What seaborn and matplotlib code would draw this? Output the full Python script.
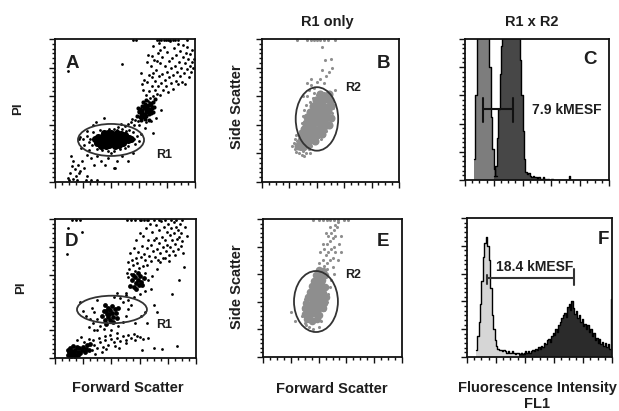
import matplotlib
matplotlib.use("Agg")
import matplotlib.pyplot as plt
import seaborn as sns
import numpy as np
import pandas as pd
from matplotlib.patches import Ellipse

sns.set_theme(style="white")
plt.rcParams['font.family'] = ['Liberation Sans', 'DejaVu Sans']

# ---------------- DATA (channel units 0-1000) ----------------
# Panel A : PI vs Forward scatter (dense core, second cluster, sparse events)
A_core_fsc = [285, 300, 310, 322, 335, 340, 352, 360, 368, 375, 383, 390, 398, 405, 412, 420, 428, 436, 445, 452,
              460, 470, 480, 492, 505, 518, 530, 545, 330, 365, 395, 425, 455, 485, 350, 380, 410, 440, 470, 500]
A_core_pi = [300, 275, 315, 290, 265, 320, 300, 275, 330, 295, 260, 315, 340, 285, 305, 265, 330, 300, 280, 320,
             295, 310, 285, 300, 315, 295, 305, 300, 250, 255, 270, 250, 260, 270, 345, 345, 335, 340, 335, 330]
A_cluster = [
    (583, 462), (601, 487), (607, 511), (614, 466), (619, 531), (624, 492), (629, 452), (636, 519), (641, 478), (643, 548),
    (647, 503), (653, 461), (657, 526), (662, 488), (664, 541), (671, 474), (674, 509), (679, 537), (683, 482), (692, 518),
    (697, 561), (703, 493), (612, 433), (645, 441), (668, 436), (593, 517), (627, 559), (652, 571), (708, 527), (713, 581),
    (632, 472), (661, 512), (688, 498), (618, 503), (676, 552), (606, 458), (652, 488), (687, 541), (641, 527), (597, 497)]
A_events = [
    (648, 611), (655, 702), (661, 566), (668, 748), (672, 634), (679, 590), (684, 812), (690, 668), (696, 731), (701, 598),
    (707, 853), (713, 642), (717, 703), (722, 781), (728, 617), (733, 902), (738, 668), (741, 744), (747, 829), (752, 611),
    (758, 693), (763, 877), (767, 758), (772, 641), (778, 944), (783, 716), (788, 812), (792, 673), (797, 768), (803, 911),
    (808, 628), (812, 843), (817, 731), (822, 987), (826, 689), (831, 796), (836, 868), (841, 747), (846, 652), (851, 934),
    (856, 812), (861, 706), (866, 889), (871, 771), (876, 962), (881, 684), (886, 838), (891, 742), (896, 917), (901, 799),
    (906, 701), (911, 872), (916, 958), (921, 763), (926, 829), (931, 688), (936, 903), (941, 787), (946, 946), (951, 858),
    (956, 733), (961, 812), (966, 896), (971, 769), (976, 842), (981, 921), (986, 795), (991, 862), (703, 760), (727, 843),
    (748, 925), (692, 882), (660, 838), (742, 972), (628, 646), (637, 712), (618, 688), (612, 760), (662, 885), (703, 950),
    (560, 995), (580, 995), (730, 995), (745, 995), (760, 995), (775, 995), (790, 995), (805, 995), (820, 995), (840, 995),
    (860, 995), (880, 995), (940, 995),
    (482, 372), (503, 393), (518, 404), (542, 417), (553, 444), (532, 366), (562, 397), (573, 433), (447, 384), (472, 405),
    (508, 357), (592, 424), (443, 362), (418, 368), (383, 374), (603, 396), (687, 424), (722, 447), (648, 417), (558, 353),
    (250, 300), (262, 262), (228, 322), (241, 283), (561, 303), (568, 268), (583, 324), (302, 233), (338, 226), (382, 218),
    (421, 214), (463, 231), (498, 238), (522, 252), (268, 352), (322, 362), (603, 287), (612, 333), (198, 302), (182, 318),
    (95, 30), (110, 60), (125, 20), (140, 90), (150, 45), (165, 120), (180, 75), (195, 150), (210, 100), (225, 190),
    (130, 150), (115, 185), (245, 225), (255, 170), (185, 235), (220, 15), (260, 15), (300, 15), (160, 15), (100, 15),
    (330, 150), (440, 145), (420, 95), (400, 200), (280, 120), (170, 60), (120, 110), (205, 260), (230, 40),
    (93, 776), (479, 825), (700, 343), (429, 98), (290, 420), (350, 450), (270, 400), (230, 360), (170, 300), (640, 380),
    (760, 500), (520, 150), (360, 120), (380, 170), (300, 180), (480, 180), (560, 200)]

# Panel B : Side scatter vs Forward scatter, R1-gated events (grey)
B_core = [
    (262, 252), (300, 243), (335, 258),
    (283, 292), (318, 284), (352, 297), (390, 288),
    (292, 333), (327, 322), (361, 338), (398, 327), (436, 336),
    (305, 372), (338, 366), (372, 378), (410, 362), (447, 374),
    (318, 412), (352, 404), (385, 418), (421, 407), (458, 414), (490, 402),
    (331, 452), (366, 446), (399, 458), (433, 444), (468, 455), (500, 447),
    (350, 492), (382, 484), (414, 497), (448, 486), (481, 494),
    (372, 532), (405, 524), (437, 537), (470, 527), (502, 533),
    (395, 572), (428, 566), (461, 578), (493, 568),
    (420, 612), (455, 604), (487, 615),
    (310, 352), (345, 386), (378, 432), (412, 468), (442, 512), (322, 392), (365, 312), (400, 352), (455, 395)]
B_events = [
    (220, 250), (240, 230), (230, 270), (250, 210), (260, 250), (270, 200), (280, 230), (290, 190), (255, 290), (300, 220),
    (320, 200), (340, 230), (290, 260), (270, 320), (280, 360), (290, 410), (300, 460), (310, 500), (320, 540), (350, 560),
    (370, 590), (400, 610), (420, 630), (450, 620), (480, 610), (500, 600), (510, 560), (520, 520), (510, 480), (500, 440),
    (490, 400), (470, 360), (450, 330), (430, 300), (360, 250), (380, 270), (340, 640), (360, 680), (380, 660), (400, 700),
    (420, 720), (450, 690), (470, 740), (490, 770), (510, 800), (440, 780), (360, 720), (330, 690), (460, 850), (500, 860),
    (438, 944), (380, 620), (300, 600), (330, 600), (530, 640), (250, 330), (240, 300), (310, 180), (350, 200),
    (255, 995), (330, 995), (360, 995), (380, 995), (400, 995), (420, 995), (450, 995), (480, 995), (530, 995)]

# Panel D : PI vs Forward scatter (second sample)
D_core = [
    (90, 20), (100, 40), (110, 15), (120, 50), (130, 30), (140, 60), (150, 25), (160, 45), (170, 70), (180, 35),
    (190, 55), (200, 80), (105, 70), (125, 85), (145, 15), (165, 20), (210, 40), (220, 65), (230, 90), (240, 55),
    (250, 100), (95, 55), (115, 30), (135, 45), (155, 80),
    (332, 304), (347, 338), (352, 276), (367, 318), (373, 362), (378, 296), (388, 343), (393, 271), (401, 324), (406, 377),
    (413, 297), (422, 353), (431, 327), (438, 287), (352, 384), (447, 362), (362, 248), (408, 262), (384, 318), (361, 339),
    (532, 521), (543, 563), (557, 508), (566, 582), (571, 537), (578, 497), (587, 562), (593, 527), (603, 592), (612, 548),
    (618, 523), (588, 613), (552, 598), (628, 572)]
D_events = [
    (262, 58), (276, 96), (297, 72), (318, 113), (338, 81), (355, 127), (377, 96), (398, 138), (418, 112), (437, 147),
    (461, 121), (479, 158), (502, 133), (521, 167), (538, 146), (557, 176), (583, 158), (309, 143), (352, 156), (268, 128),
    (392, 167), (441, 183), (603, 148), (622, 137), (657, 146), (243, 137), (203, 118), (182, 153), (158, 127), (282, 28),
    (331, 43), (452, 72), (618, 57), (703, 72), (758, 66), (862, 83), (507, 109), (569, 126), (428, 86), (365, 66),
    (280, 330), (260, 360), (250, 280), (300, 420), (320, 230), (300, 200), (350, 210), (400, 200), (450, 230), (480, 260),
    (500, 300), (520, 350), (540, 380), (480, 400), (460, 430), (500, 450), (440, 470), (420, 440), (300, 280), (270, 250),
    (220, 300), (200, 340), (240, 220), (520, 420), (560, 440), (600, 460), (640, 480), (680, 500), (700, 380), (720, 330),
    (640, 330), (610, 300), (570, 250), (650, 250), (180, 400), (280, 200),
    (512, 612), (519, 688), (527, 641), (534, 752), (541, 605), (548, 703), (553, 667), (561, 789), (566, 624), (572, 722),
    (578, 846), (584, 681), (590, 763), (597, 645), (603, 897), (609, 728), (614, 807), (621, 664), (627, 876), (632, 751),
    (638, 703), (644, 938), (651, 792), (656, 668), (662, 851), (667, 733), (673, 966), (679, 812), (684, 697), (690, 903),
    (696, 773), (701, 848), (707, 727), (713, 958), (718, 866), (724, 781), (729, 702), (735, 921), (741, 829), (747, 753),
    (752, 983), (758, 874), (763, 795), (769, 718), (774, 942), (780, 846), (786, 771), (791, 903), (797, 812), (802, 963),
    (808, 738), (813, 882), (819, 797), (824, 935), (830, 852), (836, 768), (841, 981), (847, 898), (852, 823), (858, 944),
    (863, 857), (869, 781), (874, 923), (880, 872), (885, 967), (891, 804), (897, 901), (902, 842), (908, 752), (917, 655),
    (829, 457), (880, 562), (925, 945), (935, 880), (503, 470), (515, 580), (640, 612), (660, 560), (690, 590), (720, 640),
    (745, 690), (780, 720), (810, 700), (850, 740), (612, 990), (655, 990),
    (120, 995), (150, 995), (180, 995), (510, 995), (540, 995), (570, 995), (600, 995), (630, 995), (660, 995), (700, 995),
    (740, 995), (780, 995), (820, 995), (860, 995), (900, 995),
    (92, 935), (85, 748), (191, 906)]

# Panel E : Side scatter vs Forward scatter (second sample, grey)
E_core = [
    (315, 272), (350, 263), (385, 276),
    (305, 312), (340, 304), (372, 317), (405, 306),
    (300, 352), (333, 344), (365, 357), (398, 346), (430, 355),
    (312, 392), (345, 384), (378, 397), (410, 386), (440, 394),
    (325, 432), (357, 424), (390, 437), (420, 426), (452, 434),
    (338, 472), (370, 464), (402, 477), (433, 466),
    (350, 512), (383, 504), (414, 517), (445, 506),
    (365, 552), (396, 544), (428, 557),
    (380, 592), (412, 584), (444, 597),
    (400, 632), (430, 624),
    (326, 330), (360, 410), (392, 480), (420, 540), (340, 450), (388, 345)]
E_events = [
    (300, 250), (310, 230), (305, 300), (315, 380), (320, 440), (335, 480), (345, 520), (370, 560), (380, 600), (400, 620),
    (420, 640), (440, 660), (460, 680), (480, 700), (500, 720), (430, 700), (450, 740), (470, 760), (490, 780), (510, 800),
    (440, 780), (460, 820), (480, 840), (500, 860), (520, 880), (470, 880), (490, 900), (510, 920), (530, 940), (450, 900),
    (480, 940), (520, 960), (540, 980), (420, 600), (460, 640), (500, 650), (510, 600), (490, 560), (480, 510), (470, 460),
    (460, 400), (440, 340), (420, 260), (400, 220), (360, 200), (330, 220), (280, 300), (230, 260), (290, 350), (300, 420),
    (540, 700), (520, 760), (400, 680), (410, 760), (430, 820), (560, 880), (550, 820), (560, 760), (200, 325),
    (360, 995), (400, 995), (430, 995), (460, 995), (480, 995), (510, 995), (540, 995), (580, 995), (610, 995)]

# Histograms (10-channel bins, relative height; >1 is off scale)
C_neg_start = 60
C_neg = [0.15, 0.6, 1.2, 1.3, 1.3, 1.3, 1.3, 1.3, 1.3, 1.2, 1.2, 0.8, 0.45, 0.22, 0.08, 0.03]
C_pos_start = 200
C_pos = [0.03, 0.1, 0.3, 0.5, 0.75, 0.95, 1.2, 1.3, 1.3, 1.3, 1.3, 1.3, 1.3, 1.3, 1.3, 1.3, 1.3, 1.1, 0.85, 0.6,
         0.35, 0.15, 0.06, 0.04, 0.05, 0.03, 0.02, 0.03, 0.02, 0.02, 0.01, 0.02, 0.01, 0.01, 0.02, 0.01, 0.0, 0.01,
         0.0, 0.0, 0.01, 0.0, 0.0, 0.0, 0.0, 0.0, 0.0, 0.0, 0.0, 0.0, 0.0, 0.0, 0.03, 0.0]
F_neg_start = 60
F_neg = [0.05, 0.15, 0.25, 0.38, 0.55, 0.72, 0.82, 0.86, 0.8, 0.7, 0.5, 0.3, 0.2, 0.12, 0.08, 0.06, 0.05, 0.05,
         0.04, 0.05, 0.04, 0.03, 0.04, 0.03, 0.03, 0.04, 0.03, 0.02, 0.03, 0.03, 0.02, 0.03, 0.02, 0.02]
F_pos_start = 360
F_pos = [0.02, 0.03, 0.02, 0.03, 0.04, 0.03, 0.04, 0.03, 0.04, 0.05, 0.04, 0.06, 0.05, 0.07, 0.06, 0.08, 0.07, 0.1,
         0.09, 0.12, 0.13, 0.11, 0.15, 0.17, 0.16, 0.2, 0.18, 0.23, 0.25, 0.28, 0.3, 0.32, 0.29, 0.36, 0.38, 0.34, 0.4,
         0.35, 0.31, 0.33, 0.28, 0.3, 0.25, 0.27, 0.22, 0.24, 0.2, 0.23, 0.18, 0.2, 0.15, 0.17, 0.12, 0.14, 0.1, 0.13,
         0.09, 0.11, 0.08, 0.1, 0.07, 0.09, 0.06, 0.42]

# Gates (center x, center y, width, height) and marker bars (x0, x1, y)
gate_A = (400, 294, 472, 224)
gate_B = (401, 441, 310, 444)
gate_D = (404, 349, 496, 198)
gate_E = (381, 402, 316, 442)
bar_C = (125, 333, 0.50)
bar_F = (138, 738, 0.57)

# ---------------- FIGURE ----------------
W, H = 619, 411
fig = plt.figure(figsize=(W / 100, H / 100), dpi=100)
fig.patch.set_facecolor('white')
TXT = '#1e1e1e'


def ax_at(x0, y0, x1, y1):
    return fig.add_axes([x0 / W, 1 - y1 / H, (x1 - x0) / W, (y1 - y0) / H])


def style(ax, top):
    ax.set_xlim(0, 1000)
    ax.set_ylim(0, top)
    ax.set_xticks(np.arange(0, 1001, 200))
    ax.set_xticks(np.arange(0, 1001, 50), minor=True)
    ax.set_yticks(np.linspace(0, top, 6))
    ax.set_yticks(np.linspace(0, top, 31), minor=True)
    ax.tick_params(which='both', direction='out', bottom=True, left=True, top=False, right=False,
                   labelbottom=False, labelleft=False, color='#111111', width=1)
    ax.tick_params(which='major', length=4)
    ax.tick_params(which='minor', length=2.5)
    for s in ax.spines.values():
        s.set_color('#111111')
        s.set_linewidth(1.3)
    ax.set_xlabel('')
    ax.set_ylabel('')
    ax.set_facecolor('white')


def scatter(ax, pts, color, size):
    df = pd.DataFrame(pts, columns=['x', 'y'])
    sns.scatterplot(data=df, x='x', y='y', color=color, s=size, linewidth=0, ax=ax, legend=False)


def gate(ax, g):
    ax.add_patch(Ellipse((g[0], g[1]), g[2], g[3], fill=False, edgecolor='#333333', linewidth=1.3, zorder=5))


def hist_df(start, counts):
    return pd.DataFrame({'x': start + 5 + 10 * np.arange(len(counts)), 'w': counts})


def hist_edges(start, counts):
    return list(range(start, start + 10 * len(counts) + 1, 10))


def hist(ax, start, counts, fill):
    sns.histplot(data=hist_df(start, counts), x='x', weights='w', bins=hist_edges(start, counts),
                 element='step', fill=True, color=fill, alpha=1, linewidth=0, ax=ax)


def outline(ax, start, counts):
    sns.histplot(data=hist_df(start, counts), x='x', weights='w', bins=hist_edges(start, counts),
                 element='step', fill=False, color='black', linewidth=1, ax=ax)


def marker_bar(ax, b, caps, color):
    ax.plot([b[0], b[1]], [b[2], b[2]], color=color, lw=1.5, zorder=6)
    for xx, (lo, hi) in zip([b[0], b[1]], caps):
        ax.plot([xx, xx], [lo, hi], color=color, lw=1.5, zorder=6)


# Panel A
axA = ax_at(55, 39, 195, 182)
scatter(axA, list(zip(A_core_fsc, A_core_pi)), 'black', 26)
scatter(axA, A_cluster, 'black', 9)
scatter(axA, A_events, 'black', 4)
gate(axA, gate_A)
style(axA, 1000)

# Panel B
axB = ax_at(262, 39, 399, 182)
scatter(axB, B_core, '#8e8e8e', 34)
scatter(axB, B_events, '#8e8e8e', 5)
gate(axB, gate_B)
style(axB, 1000)

# Panel C
axC = ax_at(465, 39, 609, 180)
hist(axC, C_neg_start, C_neg, '#7d7d7d')
hist(axC, C_pos_start, C_pos, '#474747')
outline(axC, C_neg_start, C_neg)
outline(axC, C_pos_start, C_pos)
style(axC, 1.0)
marker_bar(axC, bar_C, [(0.41, 0.58), (0.41, 0.58)], '#111111')

# Panel D
axD = ax_at(55, 219, 196, 358)
scatter(axD, D_core, 'black', 12)
scatter(axD, D_events, 'black', 4)
gate(axD, gate_D)
style(axD, 1000)

# Panel E
axE = ax_at(263, 219, 402, 357)
scatter(axE, E_core, '#8e8e8e', 30)
scatter(axE, E_events, '#8e8e8e', 5)
gate(axE, gate_E)
style(axE, 1000)

# Panel F
axF = ax_at(467, 218, 612, 357)
hist(axF, F_neg_start, F_neg, '#d6d6d6')
hist(axF, F_pos_start, F_pos, '#2b2b2b')
outline(axF, F_neg_start, F_neg)
outline(axF, F_pos_start, F_pos)
style(axF, 1.0)
marker_bar(axF, bar_F, [(0.525, 0.59), (0.52, 0.63)], '#333333')


def t(x, y, s, size, **kw):
    fig.text(x / W, 1 - y / H, s, fontsize=size, fontweight='bold', color=TXT, ha='center', va='center', **kw)


# axis titles / labels
t(18, 109, 'PI', 9.5, rotation=90)
t(21, 288, 'PI', 9.5, rotation=90)
t(237, 107, 'Side Scatter', 10.5, rotation=90)
t(237, 287, 'Side Scatter', 10.5, rotation=90)
t(327, 22, 'R1 only', 10.5)
t(532, 22, 'R1 x R2', 10.5)
t(128, 388, 'Forward Scatter', 10.5)
t(332, 389, 'Forward Scatter', 10.5)
t(537, 388, 'Fluorescence Intensity', 10.5)
t(537, 404, 'FL1', 10.5)

# panel letters
t(72, 63, 'A', 13.5)
t(383, 63, 'B', 13.5)
t(590, 60, 'C', 13.5)
t(72, 242, 'D', 13.5)
t(383, 242, 'E', 13.5)
t(603, 240, 'F', 13.5)

# gate names and marker values
t(164, 155, 'R1', 9)
t(164, 325, 'R1', 9)
t(353, 88, 'R2', 9)
t(353, 275, 'R2', 9)
t(567, 110, '7.9 kMESF', 10)
t(535, 267, '18.4 kMESF', 10)

fig.savefig('out.png', dpi=100, facecolor='white')
